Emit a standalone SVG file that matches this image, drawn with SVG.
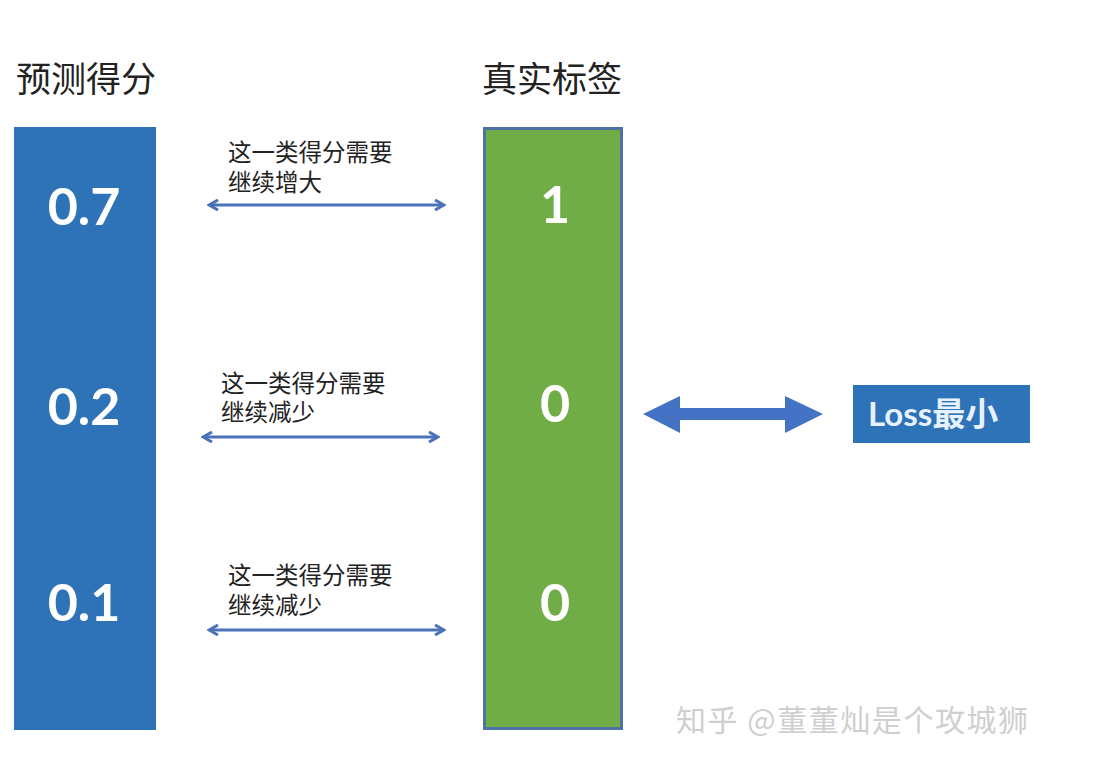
<svg xmlns="http://www.w3.org/2000/svg" width="1101" height="768" viewBox="0 0 1101 768">
<style>
.title{font-family:"Liberation Sans","Noto Sans CJK SC",sans-serif;font-size:35px;fill:#222}
.num{font-family:Lato,"Liberation Sans",sans-serif;font-size:52px;font-weight:bold;fill:#fff;text-anchor:middle}
.lbl{font-family:"Liberation Sans","Noto Sans CJK SC",sans-serif;font-size:23.5px;fill:#222}
.conn{stroke:#4a72b8;stroke-width:3;fill:none}
</style>
<defs>
<marker id="chev" viewBox="0 0 12 12" refX="10" refY="6" markerWidth="12" markerHeight="12" markerUnits="userSpaceOnUse" orient="auto-start-reverse">
<path d="M1,1 L10,6 L1,11" fill="none" stroke="#4a72b8" stroke-width="3"/>
</marker>
</defs>
<rect width="1101" height="768" fill="#fff"/>
<g id="pred">
<text class="title" x="16" y="92">预测得分</text>
<rect x="14" y="127" width="142" height="603" fill="#2e72b8"/>
<text class="num" x="84" y="225">0.7</text>
<text class="num" x="84" y="425">0.2</text>
<text class="num" x="84" y="621">0.1</text>
</g>
<g id="truth">
<text class="title" x="482" y="92">真实标签</text>
<rect x="484.5" y="128.5" width="137" height="600" fill="#70ad47" stroke="#4f72a6" stroke-width="3"/>
<text class="num" x="555" y="223">1</text>
<text class="num" x="555" y="422">0</text>
<text class="num" x="555" y="621">0</text>
</g>
<g id="labels">
<text class="lbl" x="228" y="161">这一类得分需要</text>
<text class="lbl" x="228" y="191">继续增大</text>
<text class="lbl" x="221" y="392">这一类得分需要</text>
<text class="lbl" x="221" y="421">继续减少</text>
<text class="lbl" x="228" y="584">这一类得分需要</text>
<text class="lbl" x="228" y="614">继续减少</text>
</g>
<g id="loss">
<rect x="853" y="385" width="177" height="58" fill="#2e72b8"/>
<text x="868" y="426" font-family="Lato,'Noto Sans CJK SC',sans-serif" font-size="33" font-weight="bold" fill="#e6f2ff">Loss最小</text>
</g>
<g id="connectors">
<line class="conn" x1="209" y1="205" x2="444" y2="205" marker-start="url(#chev)" marker-end="url(#chev)"/>
<line class="conn" x1="203" y1="437" x2="438" y2="437" marker-start="url(#chev)" marker-end="url(#chev)"/>
<line class="conn" x1="209" y1="630" x2="444" y2="630" marker-start="url(#chev)" marker-end="url(#chev)"/>
<path d="M643,414 L680,396 L680,408 L785,408 L785,396 L823,414 L785,433 L785,420 L680,420 L680,433 Z" fill="#4472c4"/>
</g>
<text x="676" y="731" font-family="'Noto Sans CJK SC',sans-serif" font-size="30" fill="#cfcfcf" textLength="352" lengthAdjust="spacing">知乎 @董董灿是个攻城狮</text>
</svg>
